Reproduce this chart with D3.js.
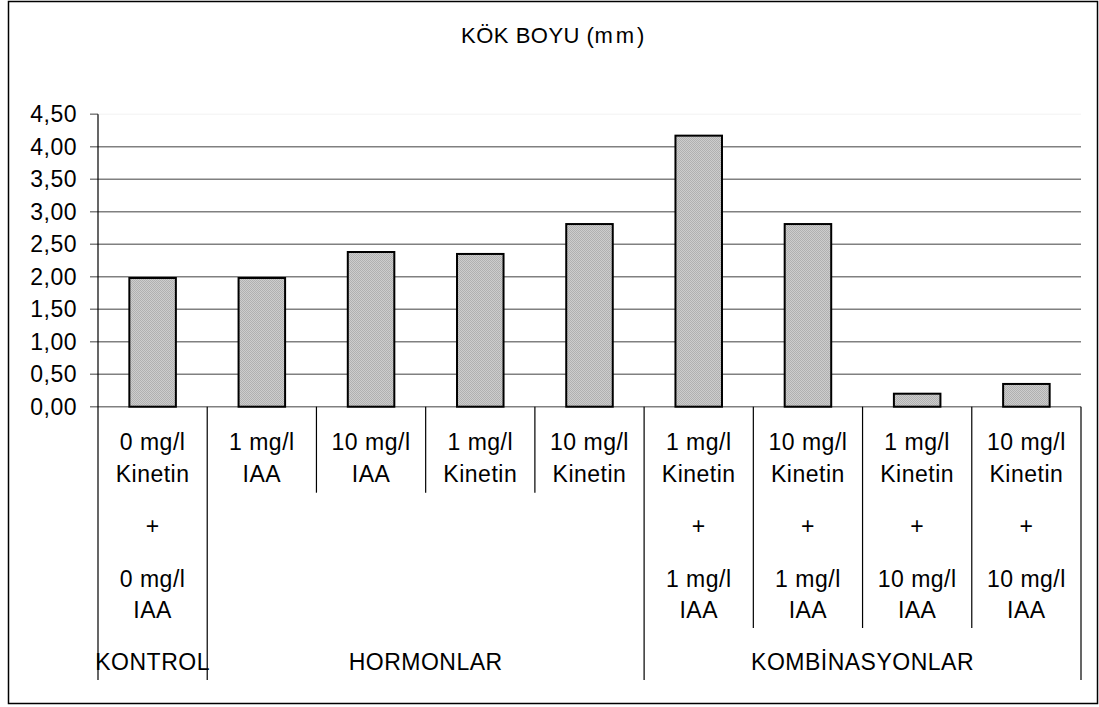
<!DOCTYPE html>
<html>
<head>
<meta charset="utf-8">
<script src="https://cdn.jsdelivr.net/npm/d3@7"></script>
<style>
  html, body { margin: 0; padding: 0; background: #fff; }
  svg { display: block; }
  text { font-family: "Liberation Sans", Arial, sans-serif; fill: #000; letter-spacing: 0.5px; }
</style>
</head>
<body>
<svg id="chart" width="1099" height="707"></svg>
<script>
// ---- data ----
const title = "KÖK BOYU (mm)";
const categoryLines = [
  ["0 mg/l", "Kinetin", "+", "0 mg/l", "IAA"],
  ["1 mg/l", "IAA"],
  ["10 mg/l", "IAA"],
  ["1 mg/l", "Kinetin"],
  ["10 mg/l", "Kinetin"],
  ["1 mg/l", "Kinetin", "+", "1 mg/l", "IAA"],
  ["10 mg/l", "Kinetin", "+", "1 mg/l", "IAA"],
  ["1 mg/l", "Kinetin", "+", "10 mg/l", "IAA"],
  ["10 mg/l", "Kinetin", "+", "10 mg/l", "IAA"]
];
const values = [1.98, 1.98, 2.38, 2.35, 2.81, 4.17, 2.81, 0.20, 0.35];
const groupNames = ["KONTROL", "HORMONLAR", "KOMBİNASYONLAR"];
const groupStarts = [0, 1, 5];
const groupEnds = [1, 5, 9];
const yTicks = [0, 0.5, 1, 1.5, 2, 2.5, 3, 3.5, 4, 4.5];

// ---- layout ----
const svg = d3.select("#chart");
const plotLeft = 98, plotRight = 1081, plotBase = 406.7, plotTop = 114.2;
const fs = 23;
const idx = d3.range(values.length);

const x = d3.scaleBand().domain(idx).range([plotLeft, plotRight])
  .paddingInner(0.574).paddingOuter(0.287);
const y = d3.scaleLinear().domain([0, 4.5]).range([plotBase, plotTop]);
const step = x.step();
const fmt = v => d3.format(".2f")(v).replace(".", ",");

// pattern
const defs = svg.append("defs");
const pat = defs.append("pattern").attr("id", "dots")
  .attr("width", 2).attr("height", 2).attr("patternUnits", "userSpaceOnUse");
pat.append("rect").attr("width", 2).attr("height", 2).attr("fill", "#cdcdcd");
pat.append("rect").attr("width", 1).attr("height", 1).attr("fill", "#b0b0b0");
pat.append("rect").attr("x", 1).attr("y", 1).attr("width", 1).attr("height", 1).attr("fill", "#b0b0b0");

// outer border
svg.append("rect").attr("x", 8.5).attr("y", 1.5).attr("width", 1089).attr("height", 702)
  .attr("fill", "#fff").attr("stroke", "#000").attr("stroke-width", 1.5);

// title
const t = svg.append("text").attr("x", 553).attr("y", 43).attr("text-anchor", "middle")
  .attr("font-size", 22).text(title.replace("(mm)", "("));
t.append("tspan").attr("letter-spacing", 3).text("mm");
t.append("tspan").text(")");

// gridlines + ticks
svg.append("g").selectAll("line").data(yTicks).join("line")
  .attr("x1", 90).attr("x2", d => d === 4.5 ? plotLeft : plotRight)
  .attr("y1", d => y(d)).attr("y2", d => y(d))
  .attr("stroke", "#808080").attr("stroke-width", 1.5);
svg.append("line").attr("x1", plotLeft).attr("x2", plotRight).attr("y1", y(4.5)).attr("y2", y(4.5))
  .attr("stroke", "#f2f2f2").attr("stroke-width", 1);

// y tick labels
svg.append("g").selectAll("text").data(yTicks).join("text")
  .attr("x", 77).attr("y", d => y(d)).attr("dy", "0.36em")
  .attr("text-anchor", "end").attr("font-size", fs).text(fmt);

// bars
svg.append("g").selectAll("rect").data(values).join("rect")
  .attr("x", (d, i) => x(i)).attr("width", x.bandwidth())
  .attr("y", d => y(d)).attr("height", d => y(0) - y(d))
  .attr("fill", "url(#dots)").attr("stroke", "#000").attr("stroke-width", 2);

// y axis line
svg.append("line").attr("x1", plotLeft).attr("x2", plotLeft).attr("y1", plotTop).attr("y2", 680)
  .attr("stroke", "#000").attr("stroke-width", 1.2);

// category separators
const groupBounds = new Set(groupEnds);
const seps = d3.range(1, values.length + 1);
svg.append("g").selectAll("line").data(seps).join("line")
  .attr("x1", i => plotLeft + i * step).attr("x2", i => plotLeft + i * step)
  .attr("y1", plotBase)
  .attr("y2", i => {
    if (groupBounds.has(i)) return 680;
    const n = Math.max(categoryLines[i - 1].length, categoryLines[i] ? categoryLines[i].length : 0);
    return n > 2 ? 628 : 492.7;
  })
  .attr("stroke", "#000").attr("stroke-width", 1.2);

// category labels
const lineY = [450, 482, 534, 587, 618];
const cg = svg.append("g");
categoryLines.forEach((lines, i) => {
  lines.forEach((s, k) => {
    cg.append("text").attr("x", x(i) + x.bandwidth() / 2).attr("y", lineY[k])
      .attr("text-anchor", "middle").attr("font-size", fs).text(s);
  });
});

// group labels
svg.append("g").selectAll("text").data(groupNames).join("text")
  .attr("x", (d, i) => plotLeft + (groupStarts[i] + groupEnds[i]) / 2 * step)
  .attr("y", 670).attr("text-anchor", "middle").attr("font-size", fs).text(d => d);
</script>
</body>
</html>
